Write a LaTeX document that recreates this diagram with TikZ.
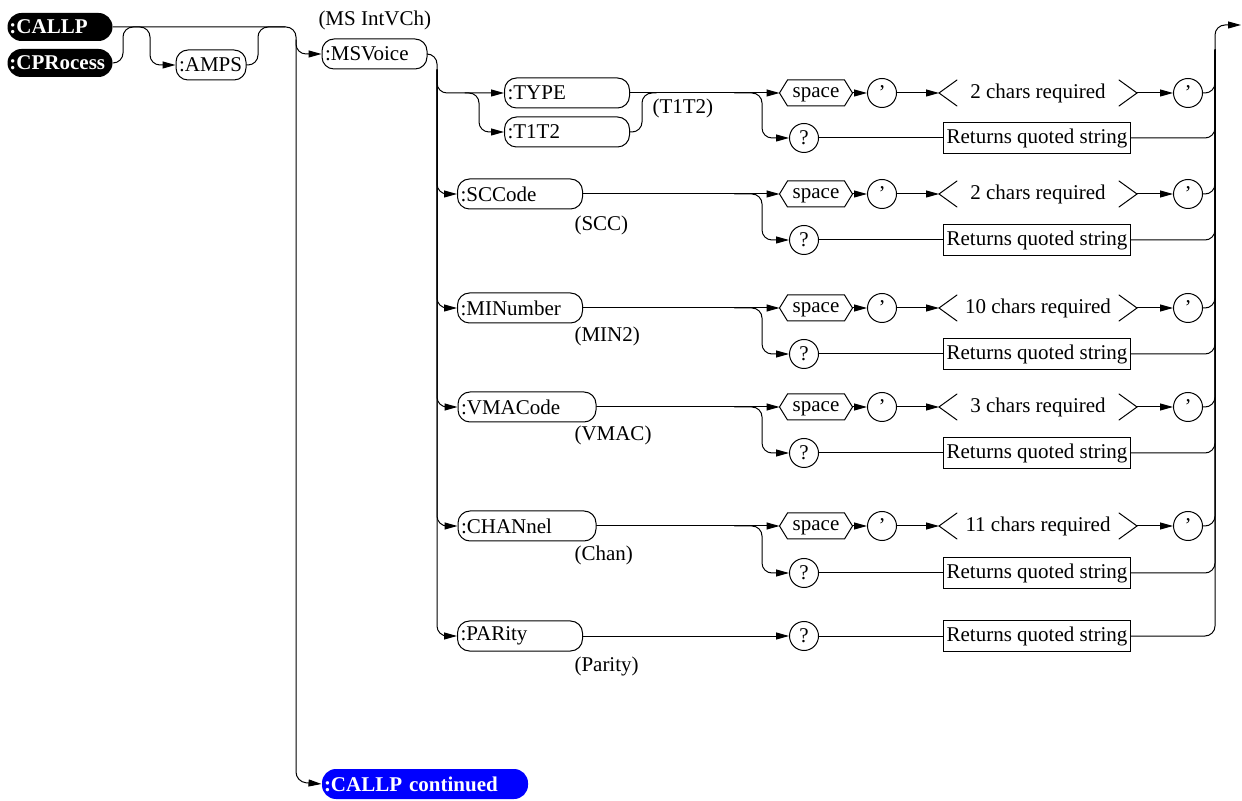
\documentclass[tikz,border=0pt]{standalone}
\usepackage{fontspec}
\setmainfont{Liberation Serif}
\usetikzlibrary{arrows.meta}

\begin{document}
\begin{tikzpicture}[x=0.5pt,y=-0.5pt,>={Triangle[length=6.5pt,width=3.5pt]},
  font=\fontsize{10.5}{12}\selectfont,line cap=round,line width=0.5pt,
  rail/.style={draw,rounded corners=5pt},
  kw/.style={draw,rounded corners=6pt,inner xsep=1.5pt,inner ysep=0pt,minimum height=15pt,text width=#1,align=left},
  hdr/.style={fill=black,text=white,font=\fontsize{10.5}{12}\selectfont\bfseries,rounded corners=7pt,inner xsep=1pt,inner ysep=0pt,minimum height=14pt,text width=#1,align=left},
  lit/.style={draw,circle,minimum size=14.5pt,inner sep=0pt},
  spc/.style={minimum width=36pt,minimum height=12.5pt,inner sep=0pt,text height=4.5pt,text depth=0pt},
  chars/.style={minimum width=98.5pt,minimum height=12.5pt,inner sep=0pt},
  ret/.style={draw,inner xsep=1.5pt,inner ysep=0pt,minimum height=15.5pt},
  lbl/.style={anchor=west,inner sep=0pt}]
\useasboundingbox (0,0) rectangle (1242,801);
% command header
\node[hdr=50.5pt] (callp) at (60,27) {:CALLP};
\node[hdr=50.5pt] (cproc) at (60,63) {:CPRocess};
\node[kw=32pt] (amps) at (211,65) {:AMPS};
\node[kw=49.5pt] (msvoice) at (374.5,54) {:MSVoice};
\node[lbl] (msname) at (318,20) {(MS IntVCh)};
\node[hdr=101pt,fill=blue,minimum height=15pt] (cont) at (425,784) {:CALLP continued};
\coordinate (bus1) at (296,782);
\coordinate (bus1top) at (296,40);
\coordinate (msbus) at (437,70);
\coordinate (tfork) at (465,93);
\coordinate (rjoin) at (1215,50);
\coordinate (exit) at (1241,25);
\draw[rail,->] (callp.east) -| (bus1) -- (cont.west);
\draw[rail,->] (bus1top) |- (msvoice.west);
\draw[rail,->] (cproc.east) -| (123,27) -| (150,65) -- (amps.west);
\draw[rail] (amps.east) -| (258,27) -- (285,27);
% TYPE / T1T2
\node[kw=59.5pt] (type) at (567,93) {:TYPE};
\node[kw=59.5pt] (t1t2) at (567,132) {:T1T2};
\node[lbl] (t1t2name) at (652,108) {(T1T2)};
\node[spc] (sp1) at (816,93) {space};
\node[lit] (qa1) at (882,93) {'};
\node[chars] (ch1) at (1038,93) {2 chars required};
\node[lit] (qb1) at (1188,93) {'};
\node[lit] (q1) at (804,138) {?};
\node[ret] (ret1) at (1037,138) {Returns quoted string};
\draw[rail,->] (msbus) |- (type.west);
\draw[rail,->] (tfork) -| ([xshift=-12.5pt]t1t2.west) -- (t1t2.west);
\draw[rail] (t1t2.east) -| ([xshift=6pt]type.east) -- ([xshift=13pt]type.east);
\draw[rail,->] (type.east) -- (sp1.west);
\draw[rail,->] ([xshift=-22.5pt]sp1.west) -| ([xshift=-13.5pt]q1.west) -- (q1.west);
\draw[rail,->] (sp1.east) -- (qa1.west);
\draw[rail,->] (qa1.east) -- (ch1.west);
\draw[rail,->] (ch1.east) -- (qb1.west);
\draw[rail] (qb1.east) -| (rjoin);
\draw[rail] (q1.east) -- (ret1.west);
\draw[rail] (ret1.east) -| (rjoin);
\draw (sp1.west) -- ([xshift=4pt]sp1.north west) -- ([xshift=-4pt]sp1.north east) -- (sp1.east)
  -- ([xshift=-4pt]sp1.south east) -- ([xshift=4pt]sp1.south west) -- cycle;
\draw ([xshift=9pt]ch1.north west) -- (ch1.west) -- ([xshift=9pt]ch1.south west)
  ([xshift=-9pt]ch1.north east) -- (ch1.east) -- ([xshift=-9pt]ch1.south east);
% SCCode
\node[kw=59.5pt] (sccode) at (520,194) {:SCCode};
\node[lbl] (sccname) at (574,225) {(SCC)};
\node[spc] (sp2) at (816,194) {space};
\node[lit] (qa2) at (882,194) {'};
\node[chars] (ch2) at (1038,194) {2 chars required};
\node[lit] (qb2) at (1188,194) {'};
\node[lit] (q2) at (804,240) {?};
\node[ret] (ret2) at (1037,240) {Returns quoted string};
\draw[rail,->] (msbus) |- (sccode.west);
\draw[rail,->] (sccode.east) -- (sp2.west);
\draw[rail,->] ([xshift=-22.5pt]sp2.west) -| ([xshift=-13.5pt]q2.west) -- (q2.west);
\draw[rail,->] (sp2.east) -- (qa2.west);
\draw[rail,->] (qa2.east) -- (ch2.west);
\draw[rail,->] (ch2.east) -- (qb2.west);
\draw[rail] (qb2.east) -| (rjoin);
\draw[rail] (q2.east) -- (ret2.west);
\draw[rail] (ret2.east) -| (rjoin);
\draw (sp2.west) -- ([xshift=4pt]sp2.north west) -- ([xshift=-4pt]sp2.north east) -- (sp2.east)
  -- ([xshift=-4pt]sp2.south east) -- ([xshift=4pt]sp2.south west) -- cycle;
\draw ([xshift=9pt]ch2.north west) -- (ch2.west) -- ([xshift=9pt]ch2.south west)
  ([xshift=-9pt]ch2.north east) -- (ch2.east) -- ([xshift=-9pt]ch2.south east);
% MINumber
\node[kw=59.5pt] (minum) at (520,308) {:MINumber};
\node[lbl] (minname) at (574,336) {(MIN2)};
\node[spc] (sp3) at (816,308) {space};
\node[lit] (qa3) at (882,308) {'};
\node[chars] (ch3) at (1038,308) {10 chars required};
\node[lit] (qb3) at (1188,308) {'};
\node[lit] (q3) at (804,354) {?};
\node[ret] (ret3) at (1037,354) {Returns quoted string};
\draw[rail,->] (msbus) |- (minum.west);
\draw[rail,->] (minum.east) -- (sp3.west);
\draw[rail,->] ([xshift=-22.5pt]sp3.west) -| ([xshift=-13.5pt]q3.west) -- (q3.west);
\draw[rail,->] (sp3.east) -- (qa3.west);
\draw[rail,->] (qa3.east) -- (ch3.west);
\draw[rail,->] (ch3.east) -- (qb3.west);
\draw[rail] (qb3.east) -| (rjoin);
\draw[rail] (q3.east) -- (ret3.west);
\draw[rail] (ret3.east) -| (rjoin);
\draw (sp3.west) -- ([xshift=4pt]sp3.north west) -- ([xshift=-4pt]sp3.north east) -- (sp3.east)
  -- ([xshift=-4pt]sp3.south east) -- ([xshift=4pt]sp3.south west) -- cycle;
\draw ([xshift=9pt]ch3.north west) -- (ch3.west) -- ([xshift=9pt]ch3.south west)
  ([xshift=-9pt]ch3.north east) -- (ch3.east) -- ([xshift=-9pt]ch3.south east);
% VMACode
\node[kw=66pt] (vmac) at (527,407) {:VMACode};
\node[lbl] (vmacname) at (574,435) {(VMAC)};
\node[spc] (sp4) at (816,407) {space};
\node[lit] (qa4) at (882,407) {'};
\node[chars] (ch4) at (1038,407) {3 chars required};
\node[lit] (qb4) at (1188,407) {'};
\node[lit] (q4) at (804,453) {?};
\node[ret] (ret4) at (1037,453) {Returns quoted string};
\draw[rail,->] (msbus) |- (vmac.west);
\draw[rail,->] (vmac.east) -- (sp4.west);
\draw[rail,->] ([xshift=-22.5pt]sp4.west) -| ([xshift=-13.5pt]q4.west) -- (q4.west);
\draw[rail,->] (sp4.east) -- (qa4.west);
\draw[rail,->] (qa4.east) -- (ch4.west);
\draw[rail,->] (ch4.east) -- (qb4.west);
\draw[rail] (qb4.east) -| (rjoin);
\draw[rail] (q4.east) -- (ret4.west);
\draw[rail] (ret4.east) -| (rjoin);
\draw (sp4.west) -- ([xshift=4pt]sp4.north west) -- ([xshift=-4pt]sp4.north east) -- (sp4.east)
  -- ([xshift=-4pt]sp4.south east) -- ([xshift=4pt]sp4.south west) -- cycle;
\draw ([xshift=9pt]ch4.north west) -- (ch4.west) -- ([xshift=9pt]ch4.south west)
  ([xshift=-9pt]ch4.north east) -- (ch4.east) -- ([xshift=-9pt]ch4.south east);
% CHANnel
\node[kw=66pt] (chan) at (527,526) {:CHANnel};
\node[lbl] (channame) at (574,555) {(Chan)};
\node[spc] (sp5) at (816,526) {space};
\node[lit] (qa5) at (882,526) {'};
\node[chars] (ch5) at (1038,526) {11 chars required};
\node[lit] (qb5) at (1188,526) {'};
\node[lit] (q5) at (804,573) {?};
\node[ret] (ret5) at (1037,573) {Returns quoted string};
\draw[rail,->] (msbus) |- (chan.west);
\draw[rail,->] (chan.east) -- (sp5.west);
\draw[rail,->] ([xshift=-22.5pt]sp5.west) -| ([xshift=-13.5pt]q5.west) -- (q5.west);
\draw[rail,->] (sp5.east) -- (qa5.west);
\draw[rail,->] (qa5.east) -- (ch5.west);
\draw[rail,->] (ch5.east) -- (qb5.west);
\draw[rail] (qb5.east) -| (rjoin);
\draw[rail] (q5.east) -- (ret5.west);
\draw[rail] (ret5.east) -| (rjoin);
\draw (sp5.west) -- ([xshift=4pt]sp5.north west) -- ([xshift=-4pt]sp5.north east) -- (sp5.east)
  -- ([xshift=-4pt]sp5.south east) -- ([xshift=4pt]sp5.south west) -- cycle;
\draw ([xshift=9pt]ch5.north west) -- (ch5.west) -- ([xshift=9pt]ch5.south west)
  ([xshift=-9pt]ch5.north east) -- (ch5.east) -- ([xshift=-9pt]ch5.south east);
% PARity
\node[kw=59.5pt] (parity) at (520,636) {:PARity};
\node[lbl] (parname) at (574,666) {(Parity)};
\node[lit] (q6) at (804,636) {?};
\node[ret] (ret6) at (1037,636) {Returns quoted string};
\draw[rail,->] (msvoice.east) -| (msbus |- parity.west) -- (parity.west);
\draw[rail,->] (parity.east) -- (q6.west);
\draw[rail] (q6.east) -- (ret6.west);
\draw[rail,->] (ret6.east) -| (rjoin |- exit) -- (exit);
\end{tikzpicture}
\end{document}
